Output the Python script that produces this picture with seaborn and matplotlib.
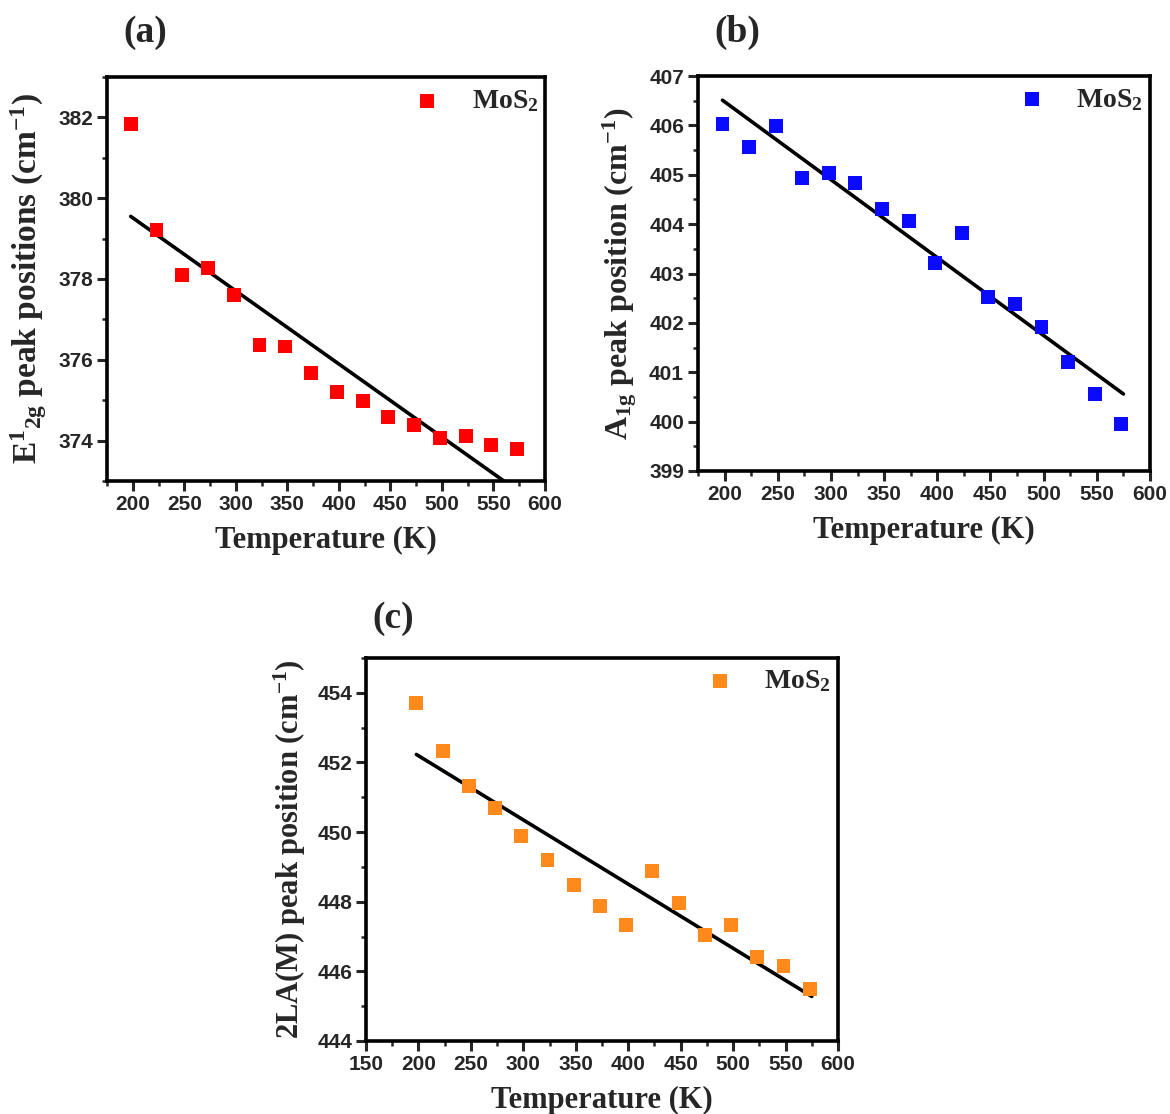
#!/usr/bin/env python3
"""Raman peak positions of MoS2 vs temperature: E1_2g, A1g and 2LA(M) panels with linear fits."""

import matplotlib

matplotlib.use("Agg")  # headless

import matplotlib.pyplot as plt
import pandas as pd
import seaborn as sns
from matplotlib.ticker import MultipleLocator

# --- data ---------------------------------------------------------------------
TEMPERATURE = [198, 223, 248, 273, 298, 323, 348, 373, 398, 423, 448, 473, 498, 523, 548, 573]

E2G_PEAK = [381.83, 379.22, 378.10, 378.27, 377.60, 376.37, 376.33, 375.67,
            375.20, 374.97, 374.58, 374.38, 374.06, 374.12, 373.90, 373.79]
A1G_PEAK = [406.03, 405.57, 405.98, 404.93, 405.03, 404.83, 404.30, 404.07,
            403.21, 403.82, 402.52, 402.38, 401.91, 401.21, 400.56, 399.95]
LA_PEAK = [453.72, 452.32, 451.32, 450.70, 449.89, 449.21, 448.47, 447.88,
           447.32, 448.88, 447.96, 447.04, 447.32, 446.42, 446.15, 445.49]

# end points of the linear fits
FIT_T = [198, 575]
E2G_FIT = [379.55, 372.73]
A1G_FIT = [406.51, 400.56]
LA_FIT = [452.23, 445.28]

LEGEND_LABEL = r"MoS$_\mathrm{2}$"
X_LABEL = "Temperature (K)"

SERIF = "Liberation Serif"
SANS = "Liberation Sans"
FIG_W, FIG_H = 1170, 1114


def _rect(left, top, right, bottom):
    """Pixel box -> figure-fraction rect."""
    return [left / FIG_W, 1 - bottom / FIG_H, (right - left) / FIG_W, (bottom - top) / FIG_H]


def draw_panel(fig, box, peak, fit, color, ylabel, ylabel_size, xlim, ylim, ymajor, yminor,
               xmajor_start):
    ax = fig.add_axes(_rect(*box))
    df = pd.DataFrame({"T": TEMPERATURE, "peak": peak})
    sns.lineplot(x=FIT_T, y=fit, color="black", lw=2.6, ax=ax, zorder=2)
    sns.scatterplot(data=df, x="T", y="peak", marker="s", s=100, color=color,
                    edgecolor="none", linewidth=0, label=LEGEND_LABEL, ax=ax, zorder=3)

    ax.set_xlim(*xlim)
    ax.set_ylim(*ylim)
    ax.set_xticks(range(xmajor_start, 601, 50))
    ax.xaxis.set_minor_locator(MultipleLocator(25))
    ax.yaxis.set_major_locator(MultipleLocator(ymajor))
    ax.yaxis.set_minor_locator(MultipleLocator(yminor))

    for side in ("left", "right", "top", "bottom"):
        ax.spines[side].set_linewidth(2.6)
        ax.spines[side].set_color("black")
    ax.tick_params(which="major", direction="out", length=7, width=2.2, pad=3,
                   labelsize=15, top=False, right=False)
    ax.tick_params(which="minor", direction="out", length=3.5, width=1.8, top=False, right=False)
    for lab in ax.get_xticklabels() + ax.get_yticklabels():
        lab.set_fontfamily(SANS)
        lab.set_fontweight("bold")

    ax.set_xlabel(X_LABEL, fontsize=22, fontfamily=SERIF, fontweight="bold", labelpad=9)
    ax.set_ylabel(ylabel, fontsize=ylabel_size, fontfamily=SERIF, fontweight="bold", labelpad=7)

    handles, labels = ax.get_legend_handles_labels()
    ax.legend(handles, labels, loc="center right", bbox_to_anchor=(0.985, 0.94),
              frameon=False, borderpad=0, borderaxespad=0, handlelength=1.0,
              handletextpad=1.1, prop={"family": SERIF, "weight": "bold", "size": 20})
    return ax


def main():
    sns.set_style("ticks")
    plt.rcParams["mathtext.fontset"] = "custom"
    plt.rcParams["mathtext.rm"] = f"{SERIF}:bold"
    plt.rcParams["mathtext.it"] = f"{SERIF}:italic:bold"
    plt.rcParams["mathtext.bf"] = f"{SERIF}:bold"
    plt.rcParams["font.family"] = [SERIF, "DejaVu Sans"]

    fig = plt.figure(figsize=(FIG_W / 100, FIG_H / 100), dpi=100)

    draw_panel(fig, (107, 77, 545, 481), E2G_PEAK, E2G_FIT, "#ff0000",
               r"E$^\mathrm{1}$$_\mathrm{2g}$ peak positions (cm$^\mathrm{-1}$)", 24,
               (175, 600), (373, 383), 2, 1, 200)
    draw_panel(fig, (698, 76, 1150, 471), A1G_PEAK, A1G_FIT, "#0a0aff",
               r"A$_\mathrm{1g}$ peak position (cm$^\mathrm{-1}$)", 23,
               (175, 600), (399, 407), 1, 0.5, 200)
    draw_panel(fig, (366, 658, 838, 1041), LA_PEAK, LA_FIT, "#ff8a1c",
               r"2LA(M) peak position (cm$^\mathrm{-1}$)", 22,
               (150, 600), (444, 455), 2, 1, 150)

    for tag, (px, py) in {"(a)": (145, 32), "(b)": (737, 32), "(c)": (393, 618)}.items():
        fig.text(px / FIG_W, 1 - py / FIG_H, tag, ha="center", va="center",
                 fontsize=27, fontfamily=SERIF, fontweight="bold")

    fig.savefig("out.png", dpi=100, facecolor="white")
    plt.close(fig)


if __name__ == "__main__":
    main()
